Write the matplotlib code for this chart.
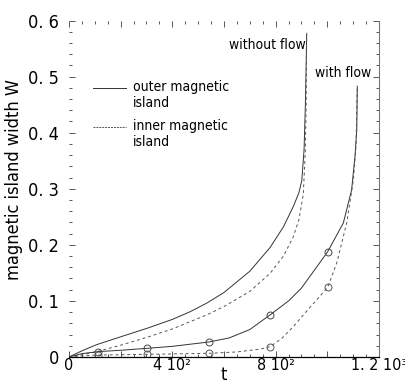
import numpy as np
import matplotlib
matplotlib.use("Agg")
from matplotlib import pyplot as plt
from matplotlib.ticker import MultipleLocator, FixedLocator, FixedFormatter

plt.rcParams['font.family'] = ['DejaVu Sans']
plt.rcParams['font.stretch'] = 'condensed'

# 流れなし (without flow)
t_out_noflow = [0, 50, 107, 200, 301, 400, 470, 533, 600, 700, 778, 830, 868, 890, 901, 910, 915, 918, 920]
w_out_noflow = [0, 0.011, 0.022, 0.036, 0.051, 0.067, 0.081, 0.096, 0.115, 0.153, 0.195, 0.232, 0.268,
                0.293, 0.314, 0.37, 0.45, 0.52, 0.575]
t_in_noflow = [0, 50, 107, 200, 301, 400, 533, 600, 700, 778, 830, 868, 890, 907, 915, 918, 920]
w_in_noflow = [0, 0.004, 0.0095, 0.021, 0.035, 0.05, 0.075, 0.09, 0.117, 0.149, 0.18, 0.214, 0.245,
               0.29, 0.37, 0.45, 0.578]

# 流れあり (with flow)
t_out_flow = [0, 50, 111, 200, 303, 400, 542, 620, 700, 778, 850, 900, 1001, 1062, 1094, 1107, 1114, 1116]
w_out_flow = [0, 0.006, 0.0095, 0.012, 0.0155, 0.019, 0.0268, 0.034, 0.049, 0.075, 0.10, 0.123,
              0.1875, 0.239, 0.298, 0.358, 0.405, 0.483]
t_in_flow = [0, 50, 111, 200, 303, 400, 542, 650, 740, 778, 823, 868, 907, 959, 1001, 1036, 1075,
             1101, 1111, 1116]
w_in_flow = [0, 0.002, 0.0036, 0.004, 0.0048, 0.0055, 0.0066, 0.009, 0.014, 0.0184, 0.033, 0.054,
             0.075, 0.102, 0.124, 0.167, 0.239, 0.316, 0.376, 0.483]

# 丸印の位置
t_mark = [111, 303, 542, 778, 1001]
w_mark_out = [0.0095, 0.0155, 0.0268, 0.075, 0.1875]
w_mark_in = [0.0036, 0.0048, 0.0066, 0.0184, 0.124]

xtick_vals = [0, 200, 400, 600, 800, 1000, 1200]
xtick_labels = ['0', '', '4 10²', '', '8 10²', '', '1. 2 10³']
ytick_vals = [0, 0.1, 0.2, 0.3, 0.4, 0.5, 0.6]
ytick_labels = ['0', '0. 1', '0. 2', '0. 3', '0. 4', '0. 5', '0. 6']

fig = plt.figure(figsize=(4.06, 3.87), dpi=100)
ax = fig.add_axes([69 / 406, 30 / 387, 310 / 406, 336.5 / 387])

ax.plot(t_out_noflow, w_out_noflow, '-', color='#333333', lw=0.7)
ax.plot(t_in_noflow, w_in_noflow, '--', color='#555555', lw=0.7, dashes=(3, 3))
ax.plot(t_out_flow, w_out_flow, '-', color='#333333', lw=0.7)
ax.plot(t_in_flow, w_in_flow, '--', color='#555555', lw=0.7, dashes=(3, 3))
ax.plot(t_mark, w_mark_out, 'o', mfc='none', mec='#444444', ms=5, mew=0.7)
ax.plot(t_mark, w_mark_in, 'o', mfc='none', mec='#555555', ms=5, mew=0.7)

ax.set_xlim(0, 1200)
ax.set_ylim(0, 0.6)

ax.xaxis.set_major_locator(FixedLocator(xtick_vals))
ax.xaxis.set_major_formatter(FixedFormatter(xtick_labels))
ax.xaxis.set_minor_locator(MultipleLocator(50))
ax.yaxis.set_major_locator(FixedLocator(ytick_vals))
ax.yaxis.set_major_formatter(FixedFormatter(ytick_labels))
ax.yaxis.set_minor_locator(MultipleLocator(0.02))

ax.tick_params(which='both', direction='in', top=True, right=True, color='#555555', width=0.7)
ax.tick_params(which='major', length=4)
ax.tick_params(which='minor', length=2)
ax.tick_params(axis='x', pad=1, labelsize=11.5)
ax.tick_params(axis='y', pad=7, labelsize=13)

ax.spines['top'].set_visible(False)
ax.spines['left'].set_visible(False)
ax.spines['right'].set_color('#777777')
ax.spines['right'].set_linewidth(0.8)
ax.spines['bottom'].set_color('black')
ax.spines['bottom'].set_linewidth(0.9)

ax.set_xlabel('t', fontsize=13, labelpad=-5)
ax.set_ylabel('magnetic island width W', fontsize=13)
ax.yaxis.set_label_coords(-0.148, 0.526)

# 凡例（手書き風）
lx0, lx1 = 93, 221
ax.plot([lx0, lx1], [0.48, 0.48], '-', color='#333333', lw=0.7)
ax.plot([lx0, lx1], [0.41, 0.41], '--', color='#555555', lw=0.7, dashes=(2, 1))
ax.text(248, 0.494, 'outer magnetic\nisland', fontsize=10, va='top', ha='left', linespacing=1.2)
ax.text(248, 0.424, 'inner magnetic\nisland', fontsize=10, va='top', ha='left', linespacing=1.2)

ax.text(767, 0.557, 'without flow', fontsize=10, ha='center', va='center')
ax.text(1061, 0.507, 'with flow', fontsize=10, ha='center', va='center')

fig.savefig('out.png', dpi=100)
